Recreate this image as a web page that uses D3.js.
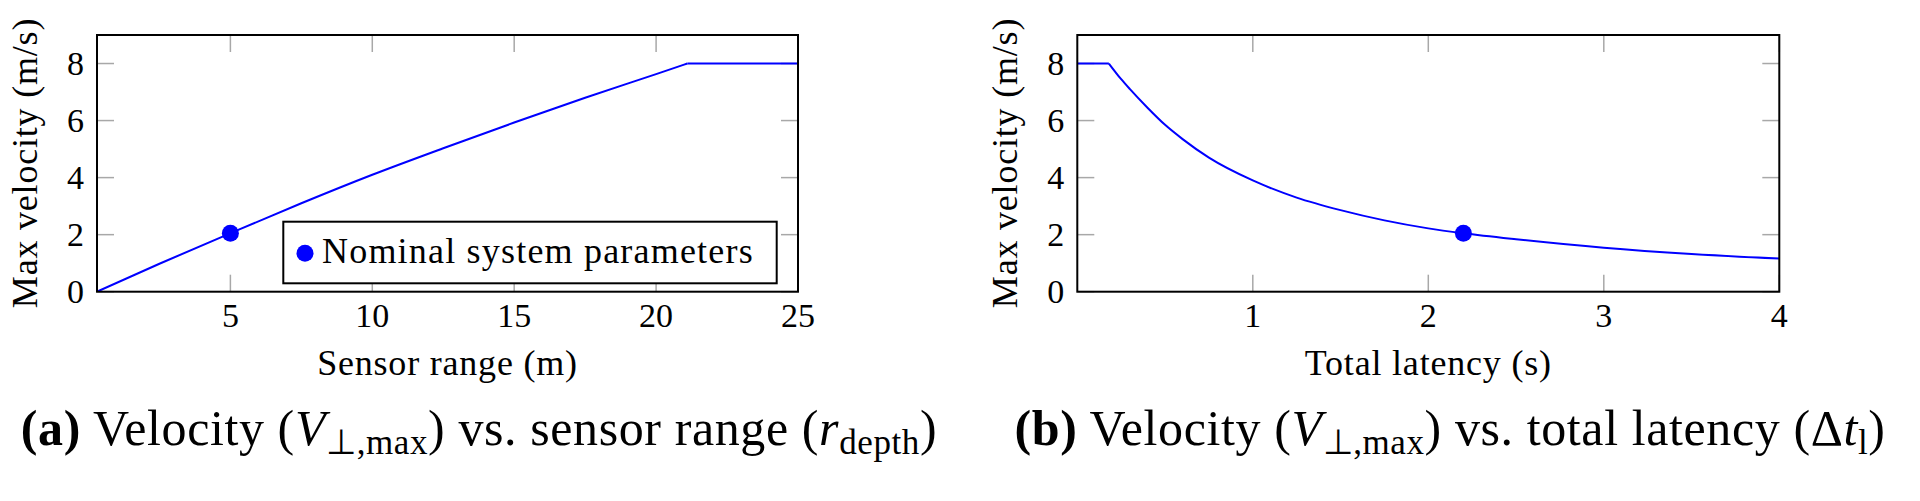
<!DOCTYPE html>
<html>
<head>
<meta charset="utf-8">
<style>
  body { margin: 0; background: #fff; }
  svg text { font-family: "Liberation Serif", "Times New Roman", serif; fill: #000; }
</style>
</head>
<body>
<svg width="1920" height="501"></svg>
<script src="https://cdn.jsdelivr.net/npm/d3@7"></script>
<script>

// (a) max velocity vs sensor range
var rangeX = [0.3, 2.5, 5, 7.5, 10, 12.5, 15, 17.5, 20, 21.1, 25];
var rangeV = [0, 0.98, 2.05, 3.1, 4.1, 5.03, 5.93, 6.8, 7.63, 8, 8];
var rangeNominal = [5, 2.05];
var rangeTicks = [5, 10, 15, 20, 25];

// (b) max velocity vs total latency
var latT = [0, 0.18, 0.25, 0.3, 0.4, 0.5, 0.6, 0.75, 1.0, 1.25, 1.5, 1.75, 2.0, 2.2, 2.5, 3.0, 3.5, 4.0];
var latV = [8, 8, 7.45, 7.1, 6.45, 5.85, 5.35, 4.7, 3.9, 3.3, 2.86, 2.5, 2.22, 2.05, 1.84, 1.54, 1.32, 1.16];
var latNominal = [2.2, 2.05];
var latTicks = [1, 2, 3, 4];

var velTicks = [0, 2, 4, 6, 8];
var legendLabel = "Nominal system parameters";

var svg = d3.select("svg");
var blue = "#0000ff";

function panel(o) {
  var x = d3.scaleLinear().domain(o.xDomain).range([o.left, o.right]);
  var y = d3.scaleLinear().domain([0, 9]).range([291.7, 35]);
  var g = svg.append("g");
  var tl = 17;

  g.append("clipPath").attr("id", o.id)
    .append("rect").attr("x", o.left).attr("y", 35)
    .attr("width", o.right - o.left).attr("height", 291.7 - 35);

  // inner tick marks (bottom/top and left/right)
  var ticks = g.append("g").attr("stroke", "#a8a8a8").attr("stroke-width", 1.5);
  o.xTicks.forEach(function(t) {
    ticks.append("line").attr("x1", x(t)).attr("x2", x(t)).attr("y1", y(0)).attr("y2", y(0) - tl);
    ticks.append("line").attr("x1", x(t)).attr("x2", x(t)).attr("y1", y(9)).attr("y2", y(9) + tl);
  });
  velTicks.forEach(function(t) {
    ticks.append("line").attr("x1", o.left).attr("x2", o.left + tl).attr("y1", y(t)).attr("y2", y(t));
    ticks.append("line").attr("x1", o.right).attr("x2", o.right - tl).attr("y1", y(t)).attr("y2", y(t));
  });

  // tick labels
  g.append("g").selectAll("text").data(o.xTicks).enter().append("text")
    .attr("x", function(d) { return x(d); })
    .attr("y", 327)
    .attr("text-anchor", "middle")
    .attr("font-size", 34)
    .text(function(d) { return d; });
  g.append("g").selectAll("text").data(velTicks).enter().append("text")
    .attr("x", o.left - 13)
    .attr("y", function(d) { return y(d) + 11; })
    .attr("text-anchor", "end")
    .attr("font-size", 34)
    .text(function(d) { return d; });

  // curve, split at the saturation knee so the corner stays sharp
  var pts = o.xs.map(function(v, i) { return [v, o.ys[i]]; });
  var k = o.knee;
  var line = d3.line().x(function(d) { return x(d[0]); }).y(function(d) { return y(d[1]); })
    .curve(d3.curveMonotoneX);
  var lines = g.append("g").attr("clip-path", "url(#" + o.id + ")");
  [pts.slice(0, k + 1), pts.slice(k)].forEach(function(seg) {
    lines.append("path").datum(seg)
      .attr("d", line)
      .attr("fill", "none").attr("stroke", blue).attr("stroke-width", 2);
  });

  g.append("circle")
    .attr("cx", x(o.nominal[0])).attr("cy", y(o.nominal[1]))
    .attr("r", 8.5).attr("fill", blue);

  // frame
  g.append("rect")
    .attr("x", o.left).attr("y", 35)
    .attr("width", o.right - o.left).attr("height", 291.7 - 35)
    .attr("fill", "none").attr("stroke", "#000").attr("stroke-width", 2);

  // axis labels
  g.append("text")
    .attr("x", (o.left + o.right) / 2).attr("y", 375)
    .attr("text-anchor", "middle").attr("font-size", 36)
    .attr("letter-spacing", 0.8)
    .text(o.xLabel);
  g.append("text")
    .attr("transform", "translate(" + o.yLabelX + "," + 163 + ") rotate(-90)")
    .attr("text-anchor", "middle").attr("font-size", 36)
    .attr("letter-spacing", 0.8)
    .text("Max velocity (m/s)");

  return g;
}

var ga = panel({
  id: "clipA", left: 97, right: 798, xDomain: [0.3, 25],
  xs: rangeX, ys: rangeV, knee: 9, nominal: rangeNominal, xTicks: rangeTicks,
  xLabel: "Sensor range (m)", yLabelX: 37
});

var gb = panel({
  id: "clipB", left: 1077.3, right: 1779.3, xDomain: [0, 4],
  xs: latT, ys: latV, knee: 1, nominal: latNominal, xTicks: latTicks,
  xLabel: "Total latency (s)", yLabelX: 1017
});

// legend on panel (a)
var leg = ga.append("g");
leg.append("rect")
  .attr("x", 283.3).attr("y", 221.7).attr("width", 776.7 - 283.3).attr("height", 283.3 - 221.7)
  .attr("fill", "#fff").attr("stroke", "#000").attr("stroke-width", 2);
leg.append("circle").attr("cx", 305).attr("cy", 253.3).attr("r", 8.5).attr("fill", blue);
leg.append("text").attr("x", 322).attr("y", 263).attr("font-size", 36)
  .attr("letter-spacing", 1.2)
  .text(legendLabel);

// sub-figure captions
function caption(cx, parts) {
  var t = svg.append("text").attr("x", cx).attr("y", 445)
    .attr("text-anchor", "middle").attr("font-size", 50)
    .attr("letter-spacing", 0.6);
  parts.forEach(function(p) {
    var s = t.append("tspan").text(p.s);
    if (p.b) s.attr("font-weight", "bold");
    if (p.i) s.attr("font-style", "italic");
    if (p.sub) s.attr("font-size", 35).attr("dy", 9);
    if (p.up) s.attr("dy", -9);
  });
}

caption(479, [
  {s: "(a)", b: true}, {s: " Velocity ("}, {s: "V", i: true}, {s: "\u22a5,max", sub: true},
  {s: ") vs. sensor range (", up: true}, {s: "r", i: true}, {s: "depth", sub: true}, {s: ")", up: true}
]);
caption(1450, [
  {s: "(b)", b: true}, {s: " Velocity ("}, {s: "V", i: true}, {s: "\u22a5,max", sub: true},
  {s: ") vs. total latency (\u0394", up: true}, {s: "t", i: true}, {s: "l", sub: true}, {s: ")", up: true}
]);

</script>
</body>
</html>
